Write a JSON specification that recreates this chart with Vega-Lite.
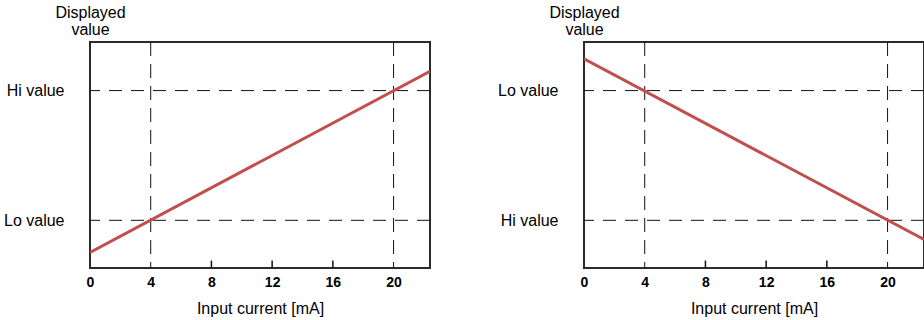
{
  "$schema": "https://vega.github.io/schema/vega-lite/v6.json",
  "padding": {"left": 2, "top": 3, "right": 1, "bottom": 5},
  "spacing": 64,
  "config": {
    "font": "Liberation Sans",
    "view": {"stroke": "#2b2b2b", "strokeWidth": 2},
    "axis": {"domain": false, "grid": false}
  },
  "datasets": {
    "hlines": [{"level": 21.1}, {"level": 78.5}],
    "vlines": [{"current": 4}, {"current": 20}],
    "tickmarks": [{"current": 8, "low": 0, "high": 3.3}, {"current": 12, "low": 0, "high": 3.3}, {"current": 16, "low": 0, "high": 3.3}],
    "up": [{"current": 0, "display": 6.9}, {"current": 22.4, "display": 87.0}],
    "down": [{"current": 0, "display": 92.6}, {"current": 22.4, "display": 12.6}]
  },
  "hconcat": [
    {
      "width": 340,
      "height": 226,
      "layer": [
        {
          "data": {"name": "hlines"},
          "mark": {"type": "rule", "color": "#111", "strokeWidth": 1, "strokeDash": [13, 9]},
          "encoding": {
            "y": {"field": "level", "type": "quantitative", "scale": {"domain": [0, 100], "nice": false, "zero": false},
              "axis": {"values": [21.1, 78.5], "labelExpr": "datum.value > 50 ? 'Hi value' : 'Lo value'", "ticks": false, "labelPadding": 26, "labelFontSize": 16, "labelColor": "#000",
                "title": ["Displayed", "value"], "titleAngle": 0, "titleAlign": "center", "titleBaseline": "alphabetic", "titleX": 0, "titleY": -25, "titleFontSize": 16, "titleFontWeight": "normal", "titleLineHeight": 17, "titleColor": "#000"}}
          }
        },
        {
          "data": {"name": "vlines"},
          "mark": {"type": "rule", "color": "#111", "strokeWidth": 1, "strokeDash": [14, 8]},
          "encoding": {
            "x": {"field": "current", "type": "quantitative", "scale": {"domain": [0, 22.4], "nice": false, "zero": false},
              "axis": {"values": [0, 4, 8, 12, 16, 20], "ticks": false, "labelFlush": false,
                "labelFontSize": 14, "labelFontWeight": "bold", "labelColor": "#000", "labelPadding": 7,
                "title": "Input current [mA]", "titleFontSize": 16, "titleFontWeight": "normal", "titleColor": "#000", "titlePadding": 11}}
          }
        },
        {
          "data": {"name": "tickmarks"},
          "mark": {"type": "rule", "color": "#111", "strokeWidth": 1.5},
          "encoding": {
            "x": {"field": "current", "type": "quantitative"},
            "y": {"field": "low", "type": "quantitative"},
            "y2": {"field": "high"}
          }
        },
        {
          "data": {"name": "up"},
          "mark": {"type": "line", "color": "#c0504d", "strokeWidth": 3, "clip": true},
          "encoding": {
            "x": {"field": "current", "type": "quantitative"},
            "y": {"field": "display", "type": "quantitative"}
          }
        }
      ]
    },
    {
      "width": 340,
      "height": 226,
      "layer": [
        {
          "data": {"name": "hlines"},
          "mark": {"type": "rule", "color": "#111", "strokeWidth": 1, "strokeDash": [13, 9]},
          "encoding": {
            "y": {"field": "level", "type": "quantitative", "scale": {"domain": [0, 100], "nice": false, "zero": false},
              "axis": {"values": [21.1, 78.5], "labelExpr": "datum.value > 50 ? 'Lo value' : 'Hi value'", "ticks": false, "labelPadding": 26, "labelFontSize": 16, "labelColor": "#000",
                "title": ["Displayed", "value"], "titleAngle": 0, "titleAlign": "center", "titleBaseline": "alphabetic", "titleX": 0, "titleY": -25, "titleFontSize": 16, "titleFontWeight": "normal", "titleLineHeight": 17, "titleColor": "#000"}}
          }
        },
        {
          "data": {"name": "vlines"},
          "mark": {"type": "rule", "color": "#111", "strokeWidth": 1, "strokeDash": [14, 8]},
          "encoding": {
            "x": {"field": "current", "type": "quantitative", "scale": {"domain": [0, 22.4], "nice": false, "zero": false},
              "axis": {"values": [0, 4, 8, 12, 16, 20], "ticks": false, "labelFlush": false,
                "labelFontSize": 14, "labelFontWeight": "bold", "labelColor": "#000", "labelPadding": 7,
                "title": "Input current [mA]", "titleFontSize": 16, "titleFontWeight": "normal", "titleColor": "#000", "titlePadding": 11}}
          }
        },
        {
          "data": {"name": "tickmarks"},
          "mark": {"type": "rule", "color": "#111", "strokeWidth": 1.5},
          "encoding": {
            "x": {"field": "current", "type": "quantitative"},
            "y": {"field": "low", "type": "quantitative"},
            "y2": {"field": "high"}
          }
        },
        {
          "data": {"name": "down"},
          "mark": {"type": "line", "color": "#c0504d", "strokeWidth": 3, "clip": true},
          "encoding": {
            "x": {"field": "current", "type": "quantitative"},
            "y": {"field": "display", "type": "quantitative"}
          }
        }
      ]
    }
  ]
}
